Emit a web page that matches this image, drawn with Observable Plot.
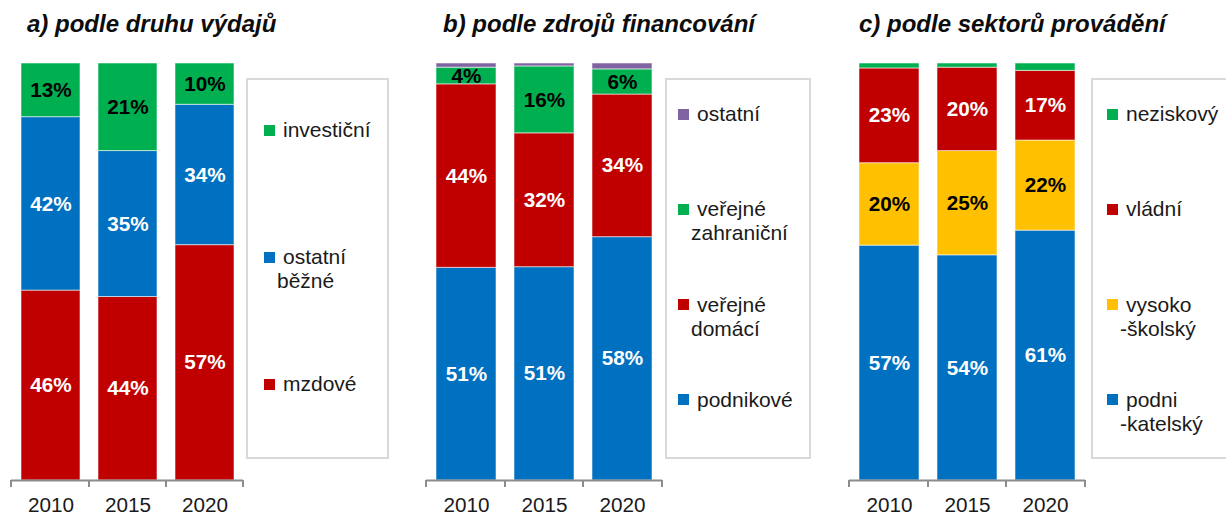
<!DOCTYPE html>
<html><head><meta charset="utf-8">
<script src="https://cdn.jsdelivr.net/npm/d3@7"></script>
<script src="https://cdn.jsdelivr.net/npm/@observablehq/plot@0.6"></script>
<style>
html,body{margin:0;padding:0;}
body{width:1226px;height:515px;overflow:hidden;background:#fff;font-family:"Liberation Sans",Arial,sans-serif;position:relative}
.title{position:absolute;top:12px;font-weight:bold;font-style:italic;font-size:24px;line-height:24px;color:#0d0d0d;white-space:nowrap}
.legend{position:absolute;top:78px;height:381px;border:2px solid #d9d9d9;box-sizing:border-box;background:#fff}
.sw{position:absolute;width:11px;height:11px}
.lt{position:absolute;font-size:21px;line-height:24px;color:#1a1a1a;white-space:nowrap}
</style></head><body>
<script>
const years = ["2010", "2015", "2020"];

// a) podle druhu výdajů (bottom to top)
const titleA = "a) podle druhu výdajů";
const catsA = ["mzdové", "ostatní běžné", "investiční"];
const mzdove = [46, 44, 57];
const ostatniBezne = [42, 35, 34];
const investicni = [13, 21, 10];

// b) podle zdrojů financování (bottom to top)
const titleB = "b) podle zdrojů financování";
const catsB = ["podnikové", "veřejné domácí", "veřejné zahraniční", "ostatní"];
const podnikove = [51, 51, 58];
const verejneDomaci = [44, 32, 34];
const verejneZahranicni = [4, 16, 6];
const ostatniB = [1, 0.7, 1.4];

// c) podle sektorů provádění (bottom to top)
const titleC = "c) podle sektorů provádění";
const catsC = ["podnikatelský", "vysokoškolský", "vládní", "neziskový"];
const podnikatelsky = [57, 54, 61];
const vysokoskolsky = [20, 25, 22];
const vladni = [23, 20, 17];
const neziskovy = [1.2, 1, 1.8];

// legend texts (top to bottom, split into lines)
const legendA = [["investiční"], ["ostatní", "běžné"], ["mzdové"]];
const legendB = [["ostatní"], ["veřejné", "zahraniční"], ["veřejné", "domácí"], ["podnikové"]];
const legendC = [["neziskový"], ["vládní"], ["vysoko", "-školský"], ["podni", "-katelský"]];

const GREEN = "#00B050", BLUE = "#0070C0", RED = "#C00000", PURPLE = "#8064A2", YELLOW = "#FFC000";
const FONT = "'Liberation Sans', Arial, sans-serif";

function addDiv(cls, css, text) {
  const d = document.createElement("div");
  d.className = cls;
  Object.assign(d.style, css);
  if (text != null) d.textContent = text;
  document.body.appendChild(d);
  return d;
}

function panel({title, titleLeft, cats, series, colors, labelColors, left, width, padIn, padOut}) {
  const rows = [];
  cats.forEach((c, k) => years.forEach((y, i) => rows.push({year: y, cat: c, value: series[k][i], k})));
  const stack = {x: "year", y: "value", z: "cat", offset: "normalize", order: null};
  const mL = 11, mR = 3;
  const ticks = (index, scales, values, dim) => {
    const sx = (scales.scales && scales.scales.x) || scales.x;
    const fx = typeof sx === "function" ? sx : (v) => sx.apply(v);
    const bw = typeof sx.bandwidth === "function" ? sx.bandwidth() : sx.bandwidth;
    const st = typeof sx.step === "function" ? sx.step() : sx.step;
    const y0 = dim.height - dim.marginBottom;
    const xs = [dim.marginLeft, ...years.slice(0, -1).map(y => fx(y) + bw + (st - bw) / 2), dim.width - dim.marginRight];
    const g = d3.create("svg:g");
    for (const xv of xs) {
      g.append("line").attr("x1", xv).attr("x2", xv).attr("y1", y0).attr("y2", y0 + 7)
        .attr("stroke", "#8c8c8c").attr("stroke-width", 2);
    }
    return g.node();
  };
  const svg = Plot.plot({
    width, height: 515, marginTop: 63, marginBottom: 35, marginLeft: mL, marginRight: mR,
    x: {domain: years, paddingInner: padIn, paddingOuter: padOut},
    y: {domain: [0, 1], axis: null},
    style: {fontFamily: FONT, background: "transparent", overflow: "visible"},
    marks: [
      Plot.barY(rows, Plot.stackY({...stack, fill: d => colors[d.k], stroke: "#ffffff", strokeOpacity: 0.55, strokeWidth: 1})),
      Plot.text(rows, Plot.stackY({...stack, text: d => d.value >= 3 ? d.value + "%" : "",
        fill: d => labelColors[d.k], fontSize: 20.7, fontWeight: "bold"})),
      Plot.ruleY([0], {stroke: "#8c8c8c", strokeWidth: 2}),
      ticks,
      Plot.axisX({tickSize: 0, tickPadding: 17, fontSize: 20.7, color: "#1a1a1a", label: null})
    ]
  });
  svg.style.position = "absolute";
  svg.style.left = left + "px";
  svg.style.top = "0px";
  svg.style.maxWidth = "none";
  document.body.appendChild(svg);
  addDiv("title", {left: titleLeft + "px"}, title);
}

function legend({items, colors, left, width, swX, txtX, firstY, gap}) {
  const box = addDiv("legend", {left: left + "px", width: width + "px"});
  // items listed top to bottom; colors given bottom to top
  items.forEach((lines, i) => {
    const cy = firstY + gap * i - 78;
    const sw = document.createElement("div");
    sw.className = "sw";
    Object.assign(sw.style, {left: (swX - left) + "px", top: (cy - 5.5 - 2) + "px", background: colors[colors.length - 1 - i]});
    box.appendChild(sw);
    lines.forEach((ln, j) => {
      const t = document.createElement("div");
      t.className = "lt";
      t.textContent = ln;
      Object.assign(t.style, {left: (txtX - left - 2 - (j > 0 ? 6 : 0)) + "px", top: (cy - 12 - 2 + 24 * j) + "px"});
      box.appendChild(t);
    });
  });
}

const colA = [RED, BLUE, GREEN];
const colB = [BLUE, RED, GREEN, PURPLE];
const colC = [BLUE, YELLOW, RED, GREEN];

panel({title: titleA, titleLeft: 27, cats: catsA, series: [mzdove, ostatniBezne, investicni],
  colors: colA, labelColors: ["#fff", "#fff", "#000"], left: 0, width: 246, padIn: 0.235, padOut: 0.117});
panel({title: titleB, titleLeft: 443, cats: catsB, series: [podnikove, verejneDomaci, verejneZahranicni, ostatniB],
  colors: colB, labelColors: ["#fff", "#fff", "#000", "#000"], left: 415, width: 250, padIn: 0.225, padOut: 0.113});
panel({title: titleC, titleLeft: 859, cats: catsC, series: [podnikatelsky, vysokoskolsky, vladni, neziskovy],
  colors: colC, labelColors: ["#fff", "#000", "#fff", "#000"], left: 838, width: 250, padIn: 0.225, padOut: 0.113});

legend({items: legendA, colors: colA, left: 246, width: 143, swX: 262, txtX: 283, firstY: 130, gap: 127});
legend({items: legendB, colors: colB, left: 665, width: 146, swX: 676, txtX: 697, firstY: 114, gap: 95.3});
legend({items: legendC, colors: colC, left: 1091, width: 150, swX: 1105, txtX: 1126, firstY: 114, gap: 95.3});
</script>
</body></html>
